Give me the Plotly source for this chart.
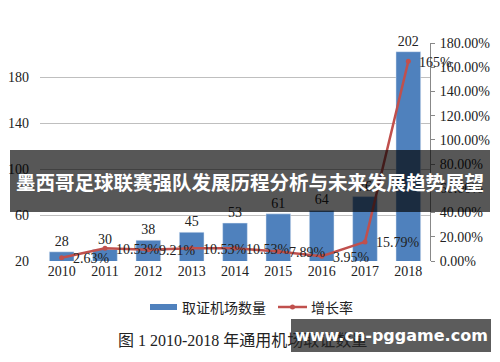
import plotly.graph_objects as go

years = ["2010", "2011", "2012", "2013", "2014", "2015", "2016", "2017", "2018"]
airports = [28, 30, 38, 45, 53, 61, 64, 76, 202]
growth = [0.0263, 0.1053, 0.0921, 0.1053, 0.1053, 0.0789, 0.0395, 0.1579, 1.65]
growth_labels = ["2.63%", "10.53%", "9.21%", "10.53%", "10.53%", "7.89%", "3.95%", "15.79%", "165%"]
left_ticks = [20, 60, 100, 140, 180]
right_ticks = [0, 0.2, 0.4, 0.6, 0.8, 1.0, 1.2, 1.4, 1.6, 1.8]
right_tick_text = ["0.00%", "20.00%", "40.00%", "60.00%", "80.00%", "100.00%",
                   "120.00%", "140.00%", "160.00%", "180.00%"]
bar_name = "取证机场数量"
line_name = "增长率"
title_text = "墨西哥足球联赛强队发展历程分析与未来发展趋势展望"
caption_text = "图 1 2010-2018 年通用机场取证数量"
watermark_text = "www.cn-pggame.com"

# page has an 8px body margin; compensate so the plot lands where the reference has it
OFF = 8
W, H = 500 - OFF, 362 - OFF
L, R, T, B = 40 - OFF, 70, 43 - OFF, 101
PW, PH = W - L - R, H - T - B
PLOT_LEFT = OFF + L
PLOT_BOTTOM = OFF + T + PH


def px(x):
    return (x - PLOT_LEFT) / PW


def py(y):
    return (PLOT_BOTTOM - y) / PH


SERIF = "Liberation Serif, Times New Roman, serif"
CJK = "Noto Sans CJK SC, sans-serif"
BLUE = "#4F81BD"
RED = "#C0504D"

fig = go.Figure()
fig.add_trace(go.Bar(
    x=years, y=airports, name=bar_name, marker_color=BLUE,
    text=[str(v) for v in airports], textposition="outside",
    textfont=dict(family=SERIF, size=14, color="#222"),
    cliponaxis=False, yaxis="y",
))
fig.add_trace(go.Scatter(
    x=years, y=growth, name=line_name, mode="lines+markers",
    line=dict(color=RED, width=2.5), marker=dict(color=RED, size=5),
    cliponaxis=False, yaxis="y2",
))

fig.update_layout(
    width=W, height=H, margin=dict(l=L, r=R, t=T, b=B, pad=0, autoexpand=False),
    paper_bgcolor="white", plot_bgcolor="white",
    showlegend=False, bargap=0.43,
    xaxis=dict(type="category", categoryorder="array", categoryarray=years,
               range=[-0.5, len(years) - 0.5],
               showgrid=False, showline=False, ticks="",
               automargin=False,
               tickfont=dict(family=SERIF, size=14, color="#222")),
    yaxis=dict(range=[20, 20 + 218 / 1.15], tickvals=left_ticks,
               showgrid=True, gridcolor="#bfbfbf", gridwidth=1,
               zeroline=False, showline=False, ticks="", automargin=False,
               ticklabelstandoff=10,
               tickfont=dict(family=SERIF, size=14, color="#222")),
    yaxis2=dict(range=[0, 1.8], overlaying="y", side="right",
                tickvals=right_ticks, ticktext=right_tick_text,
                showgrid=False, zeroline=False, showline=True,
                linecolor="#888", linewidth=1, ticks="outside",
                ticklen=4, tickcolor="#888", ticklabelstandoff=2,
                automargin=False,
                tickfont=dict(family=SERIF, size=14, color="#222")),
)

shapes = []
annotations = []

# data labels of the growth line, to the right of each point (x = category index)
for i, (g, lab) in enumerate(zip(growth, growth_labels)):
    annotations.append(dict(xref="x", yref="y2", x=i, y=g, text=lab,
                            showarrow=False, xanchor="left", yanchor="middle",
                            xshift=9, yshift=-1,
                            font=dict(family=SERIF, size=14, color="#222")))

# legend (drawn manually)
shapes.append(dict(type="rect", xref="paper", yref="paper",
                   x0=px(150), x1=px(177), y0=py(310), y1=py(304),
                   fillcolor=BLUE, line=dict(width=0)))
annotations.append(dict(xref="paper", yref="paper", x=px(180), y=py(307),
                        text=bar_name, showarrow=False, xanchor="left",
                        yanchor="middle", font=dict(family=CJK, size=14, color="#222")))
shapes.append(dict(type="line", xref="paper", yref="paper",
                   x0=px(278), x1=px(307), y0=py(307), y1=py(307),
                   line=dict(color=RED, width=2.5)))
shapes.append(dict(type="circle", xref="paper", yref="paper",
                   x0=px(290), x1=px(295), y0=py(309.5), y1=py(304.5),
                   fillcolor=RED, line=dict(width=0)))
annotations.append(dict(xref="paper", yref="paper", x=px(309), y=py(307),
                        text=line_name, showarrow=False, xanchor="left",
                        yanchor="middle", font=dict(family=CJK, size=14, color="#222")))

# caption
annotations.append(dict(xref="paper", yref="paper", x=px(116), y=py(340),
                        text=caption_text, showarrow=False, xanchor="left",
                        yanchor="middle", font=dict(family="Liberation Serif, " + CJK, size=16, color="#222")))

# overlay banner
shapes.append(dict(type="rect", xref="paper", yref="paper", layer="above",
                   x0=px(10), x1=px(490), y0=py(212), y1=py(150),
                   fillcolor="rgba(0,0,0,0.66)", line=dict(width=0)))
annotations.append(dict(xref="paper", yref="paper", x=px(250), y=py(181),
                        text="<b>" + title_text + "</b>", showarrow=False,
                        xanchor="center", yanchor="middle",
                        font=dict(family=CJK, size=19.5, color="white")))

# watermark box
shapes.append(dict(type="rect", xref="paper", yref="paper", layer="above",
                   x0=px(291), x1=px(491), y0=py(352), y1=py(319),
                   fillcolor="rgba(0,0,0,0.64)", line=dict(width=0)))
annotations.append(dict(xref="paper", yref="paper", x=px(391), y=py(335.5),
                        text="<b>" + watermark_text + "</b>", showarrow=False,
                        xanchor="center", yanchor="middle",
                        font=dict(family="DejaVu Sans, sans-serif", size=16, color="white")))

fig.update_layout(shapes=shapes, annotations=annotations)
fig.write_html("out.html")
